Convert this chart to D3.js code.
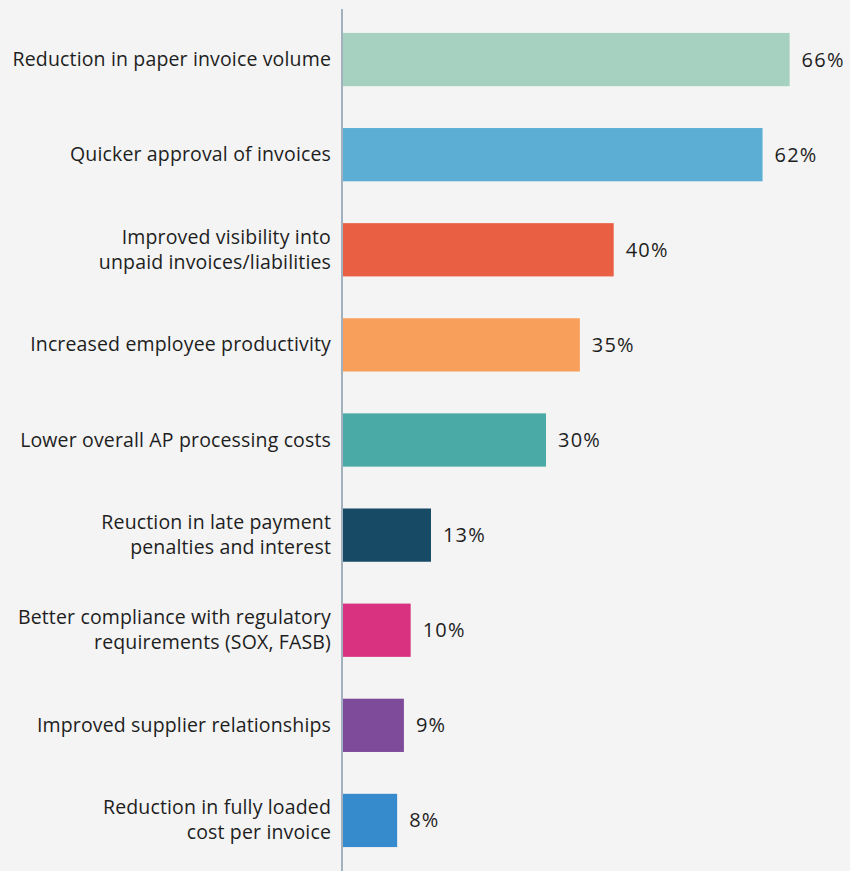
<!DOCTYPE html>
<html>
<head>
<meta charset="utf-8">
<script src="https://cdn.jsdelivr.net/npm/d3@7"></script>
<style>
  html, body { margin: 0; padding: 0; background: #f4f4f4; }
  svg { display: block; }
</style>
</head>
<body>
<svg id="chart" width="850" height="871"></svg>
<script>
const categories = [
  ["Reduction in paper invoice volume"],
  ["Quicker approval of invoices"],
  ["Improved visibility into", "unpaid invoices/liabilities"],
  ["Increased employee productivity"],
  ["Lower overall AP processing costs"],
  ["Reuction in late payment", "penalties and interest"],
  ["Better compliance with regulatory", "requirements (SOX, FASB)"],
  ["Improved supplier relationships"],
  ["Reduction in fully loaded", "cost per invoice"]
];
const values = [66, 62, 40, 35, 30, 13, 10, 9, 8];
const colors = ["#a6d1c1", "#5daed4", "#e85f43", "#f89f5b", "#4aaba6", "#164a65", "#d93280", "#7d4b9a", "#358bcc"];

const W = 850, H = 871;
const axisX = 343;
const FONT = "'Open Sans', sans-serif";
const FS = 19.5;

const svg = d3.select("#chart");
svg.append("rect").attr("width", W).attr("height", H).attr("fill", "#f4f4f4");

const ids = categories.map((c, i) => i);
const y = d3.scaleBand().domain(ids).range([12, 868]).paddingInner(0.44).paddingOuter(0.22);
const x = d3.scaleLinear().domain([0, 100]).range([axisX, axisX + 676.7]);

// bars
svg.append("g").selectAll("rect").data(values).join("rect")
  .attr("x", x(0))
  .attr("y", (d, i) => y(i))
  .attr("width", d => x(d) - x(0))
  .attr("height", y.bandwidth())
  .attr("fill", (d, i) => colors[i]);

// axis line
svg.append("line")
  .attr("x1", axisX - 1).attr("x2", axisX - 1)
  .attr("y1", 9).attr("y2", H)
  .attr("stroke", "#a3b1bf").attr("stroke-width", 2);

// category labels
const lineH = 25;
const lab = svg.append("g").selectAll("text").data(categories).join("text")
  .attr("text-anchor", "end")
  .attr("font-family", FONT)
  .attr("font-size", FS)
  .attr("letter-spacing", 0.15)
  .attr("fill", "#1e1e1e")
  .attr("x", axisX - 12)
  .attr("y", (d, i) => y(i) + y.bandwidth() / 2 + 6.5 - (d.length - 1) * lineH / 2);
lab.selectAll("tspan").data(d => d).join("tspan")
  .attr("x", axisX - 12)
  .attr("dy", (d, j) => j === 0 ? 0 : lineH)
  .text(d => d);

// value labels
svg.append("g").selectAll("text").data(values).join("text")
  .attr("font-family", FONT)
  .attr("font-size", 20)
  .attr("letter-spacing", 1.2)
  .attr("fill", "#1e1e1e")
  .attr("x", d => x(d) + 12)
  .attr("y", (d, i) => y(i) + y.bandwidth() / 2 + 7)
  .text(d => d + "%");
</script>
</body>
</html>
